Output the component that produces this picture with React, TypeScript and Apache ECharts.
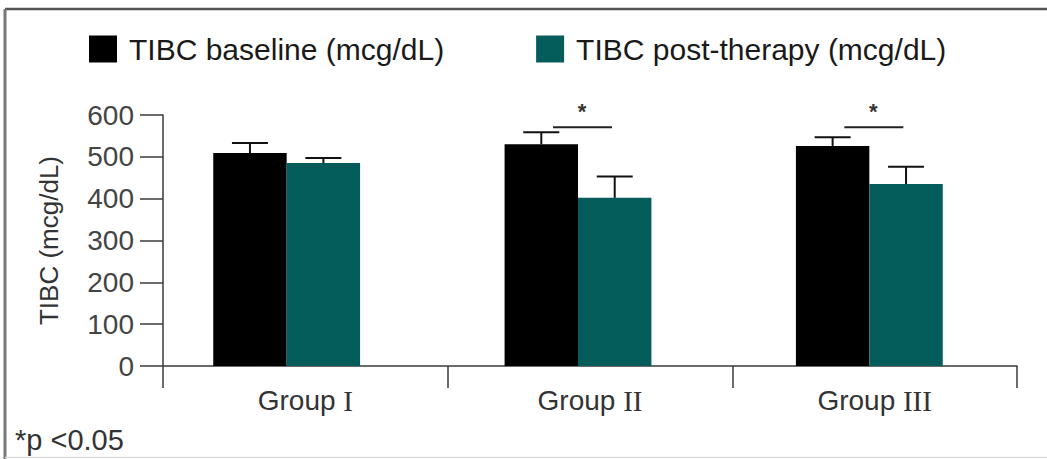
import React, { useEffect, useRef } from "react";
import * as echarts from "echarts";

const categories = ["Group I", "Group II", "Group III"];
const baselineValues = [509, 530, 526];
const baselineErrors = [24, 29, 21];
const postValues = [485, 402, 435];
const postErrors = [12, 51, 41];
const seriesNames = ["TIBC baseline (mcg/dL)", "TIBC post-therapy (mcg/dL)"];
const significantGroups = ["Group II", "Group III"];
const significanceLevel = 571;
const yTicks = [0, 100, 200, 300, 400, 500, 600];
const footnote = "*p <0.05";
const yTitle = "TIBC (mcg/dL)";

const BLACK = "#000000";
const TEAL = "#045c5b";
const AXIS = "#3a3a3a";
const TEXT = "#333333";
const SANS = "Liberation Sans, Arial, sans-serif";
const SERIF = "Liberation Serif, Times New Roman, serif";
const BAR_FRAC = 0.252;

export default function App() {
  const ref = useRef<HTMLDivElement>(null);
  useEffect(() => {
    if (!ref.current) return;
    const chart = echarts.init(ref.current, null, { renderer: "svg" });

    const errData = (vals: number[], errs: number[]) =>
      vals.map((v, i) => [i, v, v + errs[i]]);

    const errRender = (side: number) => (params: any, api: any) => {
      const idx = api.value(0);
      const top = api.coord([idx, api.value(1)]);
      const hi = api.coord([idx, api.value(2)]);
      const band = api.size([1, 0])[0];
      const bw = band * BAR_FRAC;
      const cx = top[0] + side * bw / 2;
      const cap = 18;
      return {
        type: "group",
        children: [
          { type: "line", shape: { x1: cx, y1: top[1], x2: cx, y2: hi[1] }, style: { stroke: "#111", lineWidth: 2 } },
          { type: "line", shape: { x1: cx - cap, y1: hi[1], x2: cx + cap, y2: hi[1] }, style: { stroke: "#111", lineWidth: 2 } },
        ],
      };
    };

    const sigData = significantGroups.map((g) => [categories.indexOf(g), significanceLevel]);

    chart.setOption({
      animation: false,
      backgroundColor: "#ffffff",
      legend: {
        left: 84,
        top: 29,
        itemWidth: 28,
        itemHeight: 27,
        itemGap: 92,
        icon: "rect",
        data: seriesNames,
        textStyle: { fontFamily: SANS, fontSize: 30, color: "#1a1a1a", padding: [0, 0, 0, 7] },
      },
      grid: [
        { left: 163, right: 30, top: 115, bottom: 93 },
        { left: 141, right: 32, top: 115, bottom: 93 },
      ],
      xAxis: [
        {
          type: "category",
          gridIndex: 0,
          data: categories,
          boundaryGap: true,
          axisLine: { lineStyle: { color: AXIS, width: 1.5 } },
          axisTick: { show: true, length: 22, alignWithLabel: false, lineStyle: { color: AXIS, width: 1.5 } },
          axisLabel: {
            margin: 20,
            formatter: (v: string) => {
              const parts = v.split(" ");
              return "{a|" + parts[0] + " }{b|" + parts[1] + "}";
            },
            rich: {
              a: { fontFamily: SANS, fontSize: 28, color: TEXT },
              b: { fontFamily: SERIF, fontSize: 29, color: TEXT },
            },
          },
        },
        {
          type: "category",
          gridIndex: 1,
          data: categories,
          show: false,
        },
      ],
      yAxis: [
        {
          type: "value",
          gridIndex: 0,
          min: 0,
          max: 600,
          interval: 100,
          name: yTitle,
          nameLocation: "middle",
          nameGap: 101,
          nameTextStyle: { fontFamily: SANS, fontSize: 26, color: TEXT },
          axisLine: { show: true, lineStyle: { color: AXIS, width: 1.5 } },
          axisTick: { show: true, length: 23, lineStyle: { color: AXIS, width: 1.5 } },
          axisLabel: {
            margin: 29,
            fontFamily: SANS,
            fontSize: 28,
            color: "#444",
            formatter: (v: number) => (yTicks.includes(v) ? String(v) : ""),
          },
          splitLine: { show: false },
        },
        {
          type: "value",
          gridIndex: 1,
          min: 0,
          max: 600,
          interval: 100,
          show: false,
          splitLine: { show: false },
        },
      ],
      series: [
        {
          name: seriesNames[0],
          type: "bar",
          xAxisIndex: 1,
          yAxisIndex: 1,
          data: baselineValues,
          barWidth: (BAR_FRAC * 100) + "%",
          barGap: "0%",
          itemStyle: { color: BLACK },
        },
        {
          name: seriesNames[1],
          type: "bar",
          xAxisIndex: 1,
          yAxisIndex: 1,
          data: postValues,
          barWidth: (BAR_FRAC * 100) + "%",
          barGap: "0%",
          itemStyle: { color: TEAL },
        },
        {
          type: "custom",
          xAxisIndex: 1,
          yAxisIndex: 1,
          data: errData(baselineValues, baselineErrors),
          renderItem: errRender(-1),
          z: 5,
        },
        {
          type: "custom",
          xAxisIndex: 1,
          yAxisIndex: 1,
          data: errData(postValues, postErrors),
          renderItem: errRender(1),
          z: 5,
        },
        {
          type: "custom",
          xAxisIndex: 1,
          yAxisIndex: 1,
          data: sigData,
          z: 5,
          renderItem: (params: any, api: any) => {
            const p = api.coord([api.value(0), api.value(1)]);
            return {
              type: "group",
              children: [
                { type: "line", shape: { x1: p[0] - 25, y1: p[1], x2: p[0] + 34, y2: p[1] }, style: { stroke: "#222", lineWidth: 2 } },
                { type: "text", style: { text: "*", x: p[0] + 4, y: p[1] - 16, align: "center", verticalAlign: "middle", fontFamily: SANS, fontSize: 22, fontWeight: "bold", fill: "#333" } },
              ],
            };
          },
        },
      ],
      graphic: [
        { type: "line", shape: { x1: 5, y1: 9, x2: 1047, y2: 9 }, style: { stroke: "#555", lineWidth: 2.5 } },
        { type: "line", shape: { x1: 5, y1: 9, x2: 5, y2: 459 }, style: { stroke: "#777", lineWidth: 3 } },
        { type: "line", shape: { x1: 5, y1: 457.5, x2: 1047, y2: 457.5 }, style: { stroke: "#e0e0e0", lineWidth: 1.5 } },
        { type: "text", style: { text: footnote, x: 15, y: 440, verticalAlign: "middle", fontFamily: SANS, fontSize: 29, fill: TEXT } },
      ],
    });
    return () => chart.dispose();
  }, []);
  return <div ref={ref} style={{ width: 1047, height: 459, position: "fixed", left: 0, top: 0 }} />;
}
